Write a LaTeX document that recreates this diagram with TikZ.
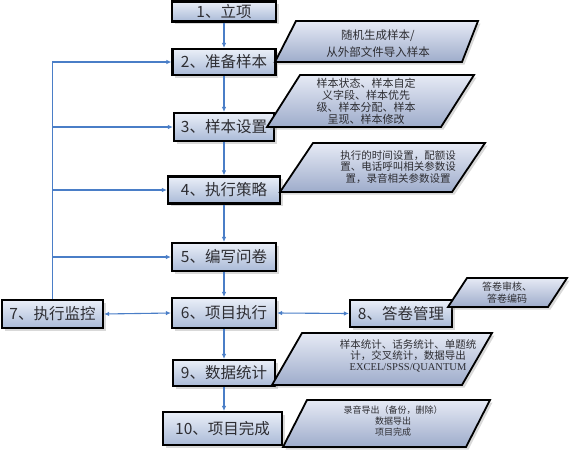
\documentclass[tikz,border=0pt]{standalone}
\usepackage{fontspec}
\setmainfont{Noto Sans CJK SC}
\newfontfamily\latinserif{Liberation Serif}
\usepackage{tikz}
\usetikzlibrary{arrows.meta, shadows, calc}

\definecolor{linkblue}{RGB}{74,126,199}
\definecolor{boxtop}{RGB}{234,239,248}
\definecolor{boxbottom}{RGB}{170,186,215}
\definecolor{calltop}{RGB}{230,234,245}
\definecolor{callbottom}{RGB}{158,172,203}
\definecolor{inktext}{RGB}{45,45,50}

\tikzset{
    stepbox/.style={draw=black, line width=2.2pt, top color=boxtop, bottom color=boxbottom,
        inner sep=0pt, text=inktext, font=\fontsize{15.5}{18}\selectfont,
        drop shadow={opacity=0.3, shadow xshift=2.5pt, shadow yshift=-2.5pt}},
    callbox/.style={draw=black, line width=1.8pt, line join=miter, top color=calltop, bottom color=callbottom,
        drop shadow={opacity=0.3, shadow xshift=2.5pt, shadow yshift=-2.5pt}},
    calltext/.style={align=center, inner sep=0pt, text=inktext},
    flow/.style={draw=linkblue, line width=1.1pt, -{Latex[length=5pt,width=4.5pt]}},
    twoway/.style={draw=linkblue, line width=1.1pt, {Latex[length=5pt,width=4.5pt]}-{Latex[length=5pt,width=4.5pt]}},
}

\begin{document}
\begin{tikzpicture}[x=1pt, y=-1pt]
    \useasboundingbox (0,0) rectangle (576,453);

    % main steps
    \node[stepbox, minimum width=104pt, minimum height=20pt] (b1) at (224,11.5) {1、立项};
    \node[stepbox, minimum width=103pt, minimum height=26pt] (b2) at (224,62) {2、准备样本};
    \node[stepbox, minimum width=100pt, minimum height=28pt] (b3) at (224,127) {3、样本设置};
    \node[stepbox, minimum width=112pt, minimum height=27pt] (b4) at (224,190) {4、执行策略};
    \node[stepbox, minimum width=104pt, minimum height=28pt] (b5) at (224,257) {5、编写问卷};
    \node[stepbox, minimum width=104pt, minimum height=30pt] (b6) at (224,313) {6、项目执行};
    \node[stepbox, minimum width=101pt, minimum height=28pt] (b7) at (52.5,314) {7、执行监控};
    \node[stepbox, minimum width=102pt, minimum height=27pt] (b8) at (401,313.5) {8、答卷管理};
    \node[stepbox, minimum width=102pt, minimum height=26pt] (b9) at (224,373) {9、数据统计};
    \node[stepbox, minimum width=119pt, minimum height=33pt] (b10) at (222.5,428.5) {10、项目完成};

    % notes
    \draw[callbox] (296,21) -- (478,21) -- (462,62) -- (275,62) -- cycle;
    \node[calltext, font=\fontsize{11.5}{16.5}\selectfont] (c2) at (378,43.5) {随机生成样本/\\从外部文件导入样本};

    \draw[callbox] (300,75) -- (474,75) -- (441,127) -- (267,127) -- cycle;
    \node[calltext, font=\fontsize{11}{11.8}\selectfont] (c3) at (366,101.5) {样本状态、样本自定\\义字段、样本优先\\级、样本分配、样本\\呈现、样本修改};

    \draw[callbox] (313,143) -- (485,143) -- (452,192) -- (280,192) -- cycle;
    \node[calltext, font=\fontsize{10.5}{11.8}\selectfont] (c4) at (398,167) {执行的时间设置，配额设\\置、电话呼叫相关参数设\\置，录音相关参数设置};

    \draw[callbox] (467,278) -- (567,278) -- (548,307) -- (448,307) -- cycle;
    \node[calltext, font=\fontsize{10}{12}\selectfont] (c8) at (507,293) {答卷审核、\\答卷编码};

    \draw[callbox] (302,333) -- (492,333) -- (462,385) -- (272,385) -- cycle;
    \node[calltext, font=\fontsize{10.5}{11}\selectfont] (c9) at (408,356) {样本统计、话务统计、单题统\\计，交叉统计，数据导出\\{\latinserif EXCEL/SPSS/QUANTUM}};

    \draw[callbox] (307,400) -- (490,400) -- (466,447) -- (283,447) -- cycle;
    \node[calltext, font=\fontsize{9}{11}\selectfont] (c10) at (393,421) {录音导出（备份，删除）\\数据导出\\项目完成};

    % main flow
    \draw[flow] (b1) -- (b2);
    \draw[flow] (b2) -- (b3);
    \draw[flow] (b3) -- (b4);
    \draw[flow] (b4) -- (b5);
    \draw[flow] (b5) -- (b6);
    \draw[flow] (b6) -- (b9);
    \draw[flow] (b9.south) -- (b9.south |- b10.north);

    % monitoring loop
    \draw[flow] (b7.north) |- (b2.west);
    \draw[flow] (b7.north |- b3.west) -- (b3.west);
    \draw[flow] (b7.north |- b4.west) -- (b4.west);
    \draw[flow] (b7.north |- b5.west) -- (b5.west);
    \draw[twoway] (b7.east) -- (b6.west);
    \draw[twoway] (b6.east) -- (b8.west);
\end{tikzpicture}
\end{document}
